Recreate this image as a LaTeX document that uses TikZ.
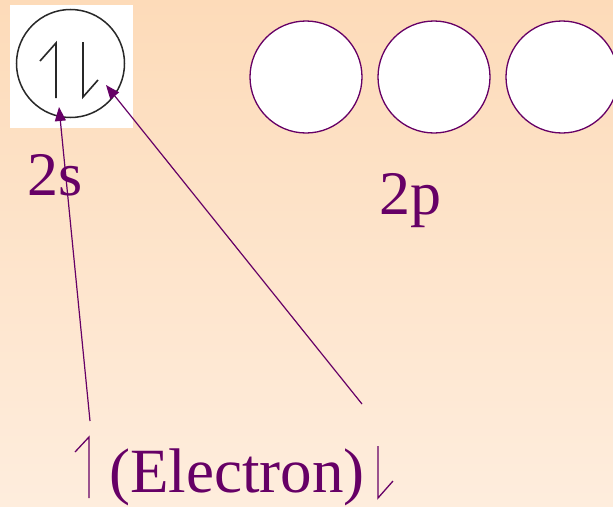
\documentclass[tikz,border=0pt]{standalone}
\usepackage{fontspec}
\setmainfont{Liberation Serif}
\usetikzlibrary{arrows.meta}
\definecolor{bgtop}{RGB}{253,219,185}
\definecolor{bgbot}{RGB}{254,237,221}
\definecolor{plum}{RGB}{102,0,102}
\definecolor{ink}{RGB}{40,40,40}
\tikzset{
  orb/.style={circle,draw=plum,line width=1.3pt,fill=white,minimum size=112pt,inner sep=0pt},
  lbl/.style={text=plum,font=\fontsize{62}{62}\selectfont,inner sep=0pt,anchor=base west},
  pointer/.style={draw=plum,line width=1.2pt,-{Triangle[length=14pt,width=11pt]}},
  harp/.style={draw=ink,line width=1.6pt},
  tharp/.style={draw=plum,line width=1.3pt}
}
\begin{document}
\begin{tikzpicture}[x=1pt,y=-1pt]
\useasboundingbox (0,0) rectangle (613,506);
\shade[top color=bgtop,bottom color=bgbot] (0,0) rectangle (613,506);
% 2s box
\node[fill=white,minimum size=123pt,inner sep=0pt] (box) at (71.5,66.5) {};
\node[circle,draw=ink,line width=1.5pt,minimum size=108pt,inner sep=0pt] (s2) at (70.5,63.5) {};
\draw[harp] (56,98) -- (56,43) -- (40,61);
\draw[harp] (83,42) -- (83,97) -- (98,80);
% 2p orbitals
\node[orb] (p1) at (306,77) {};
\node[orb] (p2) at (434,77) {};
\node[orb] (p3) at (562,77) {};
% labels
\node[lbl] (l2s) at (27,195) {2s};
\node[lbl] (l2p) at (379,214) {2p};
\node[lbl,font=\fontsize{63}{63}\selectfont] (el) at (109,492) {(Electron)};
% text harpoons
\draw[tharp] (89,498) -- (89,437) -- (75,452);
\draw[tharp] (378,446) -- (378,498) -- (393,481);
% pointers
\coordinate (t1) at (90,421);
\coordinate (h1) at (59,107);
\coordinate (t2) at (362,404);
\coordinate (h2) at (106,85);
\draw[pointer] (t1) -- (h1);
\draw[pointer] (t2) -- (h2);
\end{tikzpicture}
\end{document}
